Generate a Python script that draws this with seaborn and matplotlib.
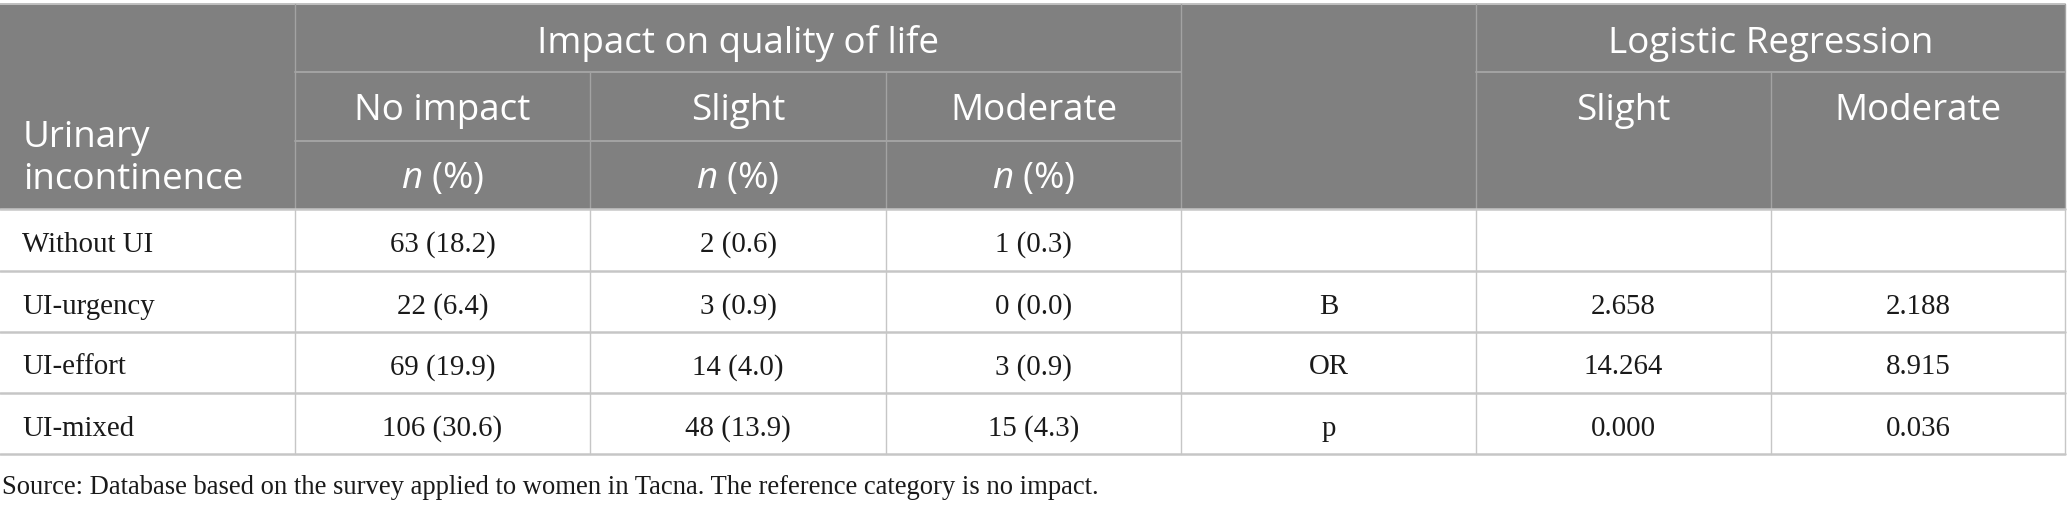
import numpy as np
import pandas as pd
import matplotlib.pyplot as plt
import seaborn as sns

sns.set_theme(style="white")
plt.rcParams['mathtext.fontset'] = 'custom'
plt.rcParams['mathtext.rm'] = 'Open Sans'
plt.rcParams['mathtext.it'] = 'Open Sans:italic'

# data
categories = ["Without UI", "UI-urgency", "UI-effort", "UI-mixed"]
no_impact_n = [63, 22, 69, 106]
no_impact_pct = [18.2, 6.4, 19.9, 30.6]
slight_n = [2, 3, 14, 48]
slight_pct = [0.6, 0.9, 4.0, 13.9]
moderate_n = [1, 0, 3, 15]
moderate_pct = [0.3, 0.0, 0.9, 4.3]
stat_labels = ["", "B", "OR", "p"]
lr_slight = [None, 2.658, 14.264, 0.000]
lr_moderate = [None, 2.188, 8.915, 0.036]
source_note = "Source: Database based on the survey applied to women in Tacna. The reference category is no impact."

def npct(n, p):
    return "{} ({:.1f})".format(n, p)

def fmt(v):
    return "" if v is None else "{:.3f}".format(v)

df = pd.DataFrame({
    "cat": categories,
    "none": [npct(n, p) for n, p in zip(no_impact_n, no_impact_pct)],
    "slight": [npct(n, p) for n, p in zip(slight_n, slight_pct)],
    "moderate": [npct(n, p) for n, p in zip(moderate_n, moderate_pct)],
    "stat": stat_labels,
    "lr_s": [fmt(v) for v in lr_slight],
    "lr_m": [fmt(v) for v in lr_moderate],
})

# layout (pixels)
W, H = 2067, 507
cols = [0, 295, 590, 886, 1181, 1476, 1771, 2065]
hrows = [4, 72, 141, 209]
hbase = [53, 120, 188]
brows = [209, 271, 332, 393, 454]
HEAD = "#808080"
HLINE = "#a3a3a3"
BLINE = "#c6c6c6"
TXT = "#1a1a1a"
sans = "Open Sans"
serif = "Liberation Serif"
hsize = 26.5
bsize = 20.8

fig = plt.figure(figsize=(W / 100, H / 100), dpi=100)
ax = fig.add_axes([0, 0, 1, 1])
ax.set_xlim(0, W)
ax.set_ylim(H, 0)
ax.axis("off")

# header background
ax.fill_between([cols[0], cols[-1]], hrows[0], hrows[-1], color=HEAD, lw=0)

lw_h = 1.4
# header lines
ax.plot([cols[0], cols[-1]], [hrows[0], hrows[0]], color="#c0c0c0", lw=lw_h)
ax.plot([cols[1], cols[4]], [hrows[1], hrows[1]], color=HLINE, lw=lw_h)
ax.plot([cols[5], cols[7]], [hrows[1], hrows[1]], color=HLINE, lw=lw_h)
ax.plot([cols[1], cols[4]], [hrows[2], hrows[2]], color=HLINE, lw=lw_h)
for c in [1, 4, 5, 7]:
    ax.plot([cols[c], cols[c]], [hrows[0], hrows[3]], color=HLINE, lw=1.0)
for c in [2, 3, 6]:
    ax.plot([cols[c], cols[c]], [hrows[1], hrows[3]], color=HLINE, lw=1.0)

# body lines
for y in brows:
    ax.plot([cols[0], cols[-1]], [y, y], color=BLINE, lw=1.8)
for c in range(1, 8):
    ax.plot([cols[c], cols[c]], [brows[0], brows[-1]], color=BLINE, lw=1.0)

def mid(a, b):
    return (a + b) / 2

def head(x, y, s, ha="center"):
    ax.text(x, y, s, color="white", family=sans, fontsize=hsize, ha=ha, va="baseline")

# header text
head(23, 147, "Urinary", ha="left")
head(23, 189, "incontinence", ha="left")
head(mid(cols[1], cols[4]), hbase[0], "Impact on quality of life")
head(mid(cols[5], cols[7]), hbase[0], "Logistic Regression")
for i, lab in enumerate(["No impact", "Slight", "Moderate"]):
    head(mid(cols[1 + i], cols[2 + i]), hbase[1], lab)
    head(mid(cols[1 + i], cols[2 + i]), hbase[2], r"$\mathit{n}$ (%)")
for i, lab in enumerate(["Slight", "Moderate"]):
    head(mid(cols[5 + i], cols[6 + i]), hbase[1], lab)

# body text
for r, row in df.iterrows():
    yb = brows[r] + 42.5
    ax.text(22, yb, row["cat"], family=serif, fontsize=bsize, color=TXT, ha="left", va="baseline")
    for j, key in enumerate(["none", "slight", "moderate", "stat", "lr_s", "lr_m"]):
        ax.text(mid(cols[1 + j], cols[2 + j]), yb, row[key], family=serif, fontsize=bsize,
                color=TXT, ha="center", va="baseline")

ax.text(2, 494, source_note, family=serif, fontsize=19.2, color=TXT, ha="left", va="baseline")

fig.savefig("out.png", dpi=100)
